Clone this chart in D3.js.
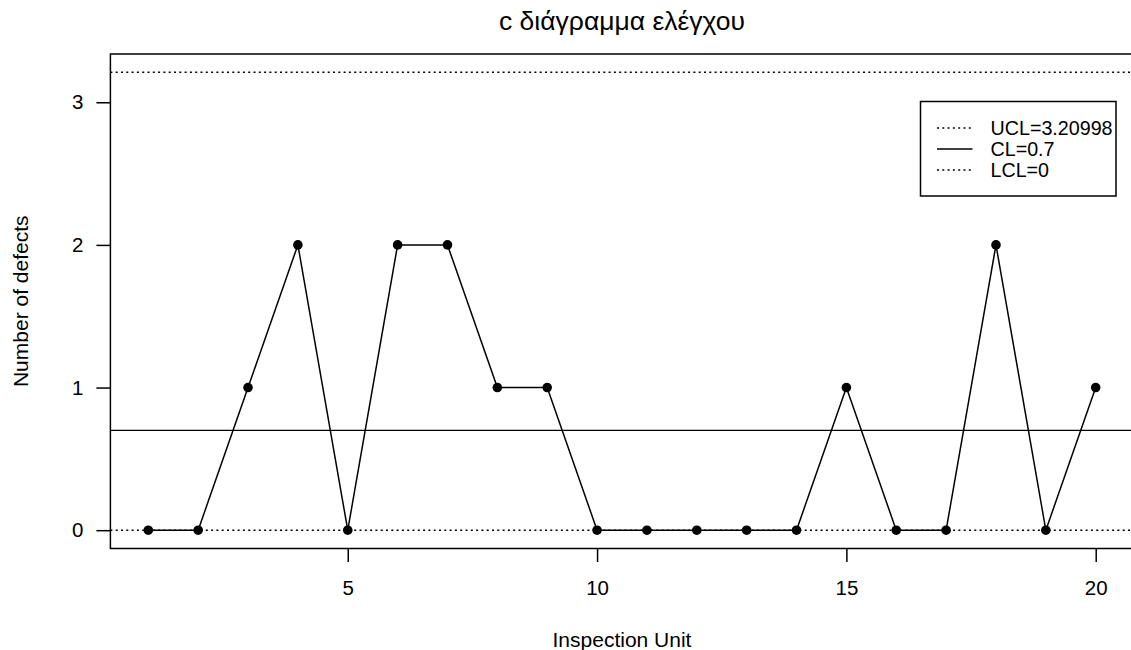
<!DOCTYPE html>
<html>
<head>
<meta charset="utf-8">
<script src="https://cdn.jsdelivr.net/npm/d3@7"></script>
<style>
  html, body { margin: 0; padding: 0; background: #fff; }
  svg { display: block; font-family: "Liberation Sans", Arial, sans-serif; }
</style>
</head>
<body>
<svg id="chart" width="1131" height="650"></svg>
<script>
// c chart: number of defects per inspection unit
const units = d3.range(1, 21);
const defects = [0, 0, 1, 2, 0, 2, 2, 1, 1, 0, 0, 0, 0, 0, 1, 0, 0, 2, 0, 1];
const centerLine = 0.7;
const upperLimit = 3.20998;
const lowerLimit = 0;
const xTicks = [5, 10, 15, 20];
const yTicks = [0, 1, 2, 3];
const legendLabels = ["UCL=3.20998", "CL=0.7", "LCL=0"];
const legendDashes = ["2,3.3", null, "2,3.3"];

const titleText = "c διάγραμμα ελέγχου";
const xTitle = "Inspection Unit";
const yTitle = "Number of defects";

const svg = d3.select("#chart");
const plot = { left: 110.4, right: 1133.6, top: 54, bottom: 548.5 };
const axisFont = 20.5;

// axis ranges padded by 4% like base graphics
const xExt = d3.extent(units);
const xPad = (xExt[1] - xExt[0]) * 0.04;
const yExt = [Math.min(lowerLimit, d3.min(defects)), Math.max(upperLimit, d3.max(defects))];
const yPad = (yExt[1] - yExt[0]) * 0.04;

const x = d3.scaleLinear().domain([xExt[0] - xPad, xExt[1] + xPad]).range([plot.left, plot.right]);
const y = d3.scaleLinear().domain([yExt[0] - yPad, yExt[1] + yPad]).range([plot.bottom, plot.top]);

const stroke = "#000";

// plot frame
svg.append("rect")
  .attr("x", plot.left).attr("y", plot.top)
  .attr("width", plot.right - plot.left).attr("height", plot.bottom - plot.top)
  .attr("fill", "none").attr("stroke", stroke).attr("stroke-width", 1.5);

// axes
const xAxis = d3.axisBottom(x).tickValues(xTicks).tickSize(13.5).tickPadding(18).tickFormat(d3.format("d"));
const gx = svg.append("g").attr("transform", `translate(0,${plot.bottom})`).call(xAxis);
gx.select(".domain").remove();
gx.selectAll(".tick line").attr("stroke", stroke).attr("stroke-width", 1.5);
gx.selectAll(".tick text").attr("font-size", axisFont).attr("fill", stroke)
  .attr("font-family", "Liberation Sans, Arial, sans-serif");

const yAxis = d3.axisLeft(y).tickValues(yTicks).tickSize(14).tickPadding(13).tickFormat(d3.format("d"));
const gy = svg.append("g").attr("transform", `translate(${plot.left},0)`).call(yAxis);
gy.select(".domain").remove();
gy.selectAll(".tick line").attr("stroke", stroke).attr("stroke-width", 1.5);
gy.selectAll(".tick text").attr("font-size", axisFont).attr("fill", stroke)
  .attr("font-family", "Liberation Sans, Arial, sans-serif");

// control limits
const limits = [
  { v: upperLimit, dash: "2,3.3" },
  { v: centerLine, dash: null },
  { v: lowerLimit, dash: "2,3.3" }
];
svg.append("g").selectAll("line").data(limits).join("line")
  .attr("x1", plot.left).attr("x2", plot.right)
  .attr("y1", d => y(d.v)).attr("y2", d => y(d.v))
  .attr("stroke", stroke).attr("stroke-width", 1.4)
  .attr("stroke-dasharray", d => d.dash);

// series line and points
const pts = units.map((u, i) => [u, defects[i]]);
svg.append("path")
  .attr("d", d3.line().x(d => x(d[0])).y(d => y(d[1]))(pts))
  .attr("fill", "none").attr("stroke", stroke).attr("stroke-width", 1.5);
svg.append("g").selectAll("circle").data(pts).join("circle")
  .attr("cx", d => x(d[0])).attr("cy", d => y(d[1])).attr("r", 4.8)
  .attr("fill", stroke);

// titles
svg.append("text").attr("x", (plot.left + plot.right) / 2).attr("y", 30)
  .attr("text-anchor", "middle").attr("font-size", 26.5).attr("fill", stroke)
  .text(titleText);
svg.append("text").attr("x", (plot.left + plot.right) / 2).attr("y", 647)
  .attr("text-anchor", "middle").attr("font-size", 21).attr("fill", stroke)
  .text(xTitle);
svg.append("text")
  .attr("transform", `translate(27.5,${(plot.top + plot.bottom) / 2}) rotate(-90)`)
  .attr("text-anchor", "middle").attr("font-size", 21).attr("fill", stroke)
  .text(yTitle);

// legend
const legend = svg.append("g").attr("transform", "translate(920.5,101.5)");
legend.append("rect").attr("width", 195.5).attr("height", 94.5)
  .attr("fill", "#fff").attr("stroke", stroke).attr("stroke-width", 1.5);
const rows = legend.selectAll("g.row").data(legendLabels).join("g")
  .attr("class", "row")
  .attr("transform", (d, i) => `translate(0,${26.5 + i * 21})`);
rows.append("line").attr("x1", 16.5).attr("x2", 52)
  .attr("stroke", stroke).attr("stroke-width", 1.4)
  .attr("stroke-dasharray", (d, i) => legendDashes[i]);
rows.append("text").attr("x", 70).attr("dy", "0.35em")
  .attr("font-size", 19.7).attr("fill", stroke).text(d => d);
</script>
</body>
</html>
